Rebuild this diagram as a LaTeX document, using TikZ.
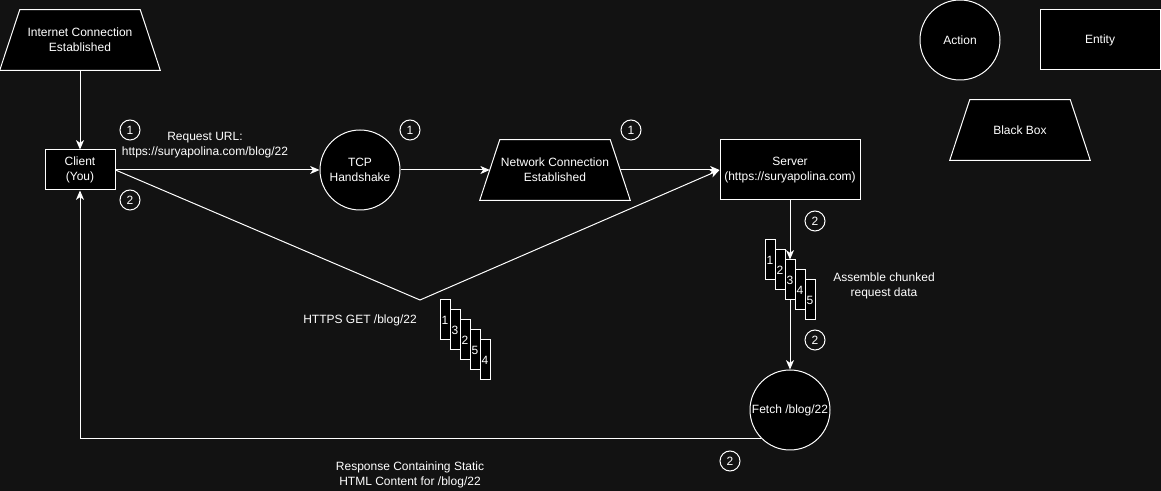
\documentclass[tikz,border=0pt]{standalone}
\usepackage{fontspec}
\setmainfont{Liberation Sans}
\usetikzlibrary{shapes.geometric,arrows.meta}
\definecolor{bg}{RGB}{18,18,18}
\newcommand\mytrap[1]{\draw[shp] ([xshift=15pt]#1.north west) -- ([xshift=-15pt]#1.north east) -- (#1.south east) -- (#1.south west) -- cycle;}
\begin{document}
\begin{tikzpicture}[x=0.75pt,y=-0.75pt,
  every node/.style={font=\fontsize{9pt}{11pt}\selectfont, text=white},
  shp/.style={draw=white, fill=black, line width=0.75pt, inner sep=0pt, align=center},
  entity/.style={shp, rectangle},
  action/.style={shp, circle, minimum size=60pt},
  trapbox/.style={rectangle, inner sep=0pt, minimum height=45pt},
  chunk/.style={shp, rectangle, minimum width=7.5pt, minimum height=30pt},
  badge/.style={draw=white, line width=0.75pt, circle, minimum size=15pt, inner sep=0pt},
  lbl/.style={align=center},
  arr/.style={draw=white, line width=0.75pt, -{Stealth[length=7pt,width=6pt,inset=2pt]}},
  ln/.style={draw=white, line width=0.75pt}]
\useasboundingbox (0,0) rectangle (1161,491);
\fill[bg] (0,0) rectangle (1161,491);

% black boxes (trapezoids)
\node[trapbox, minimum width=120pt] (inet) at (80,40) {};
\mytrap{inet}
\node[lbl] (inettxt) at (inet) {Internet Connection\\Established};
\node[trapbox, minimum width=112.5pt] (net) at (555,170) {};
\mytrap{net}
\node[lbl] (nettxt) at (net) {Network Connection\\Established};
\node[trapbox, minimum width=105pt] (lbb) at (1020,130) {};
\mytrap{lbb}
\node[lbl] (lbbtxt) at (lbb) {Black Box};

% main nodes
\node[entity, minimum width=52.5pt, minimum height=30pt] (client) at (80,170) {Client\\(You)};
\node[action] (tcp) at (360,170) {TCP\\Handshake};
\node[entity, minimum width=105pt, minimum height=45pt] (server) at (790,170) {Server\\(https://suryapolina.com)};
\node[action] (fetch) at (790,410) {Fetch /blog/22};

% legend
\node[action] (lact) at (960,40) {Action};
\node[entity, minimum width=90pt, minimum height=45pt] (lent) at (1100,40) {Entity};

% chunks near server
\node[chunk] (s1) at (770,260) {1};
\node[chunk] (s2) at (780,270) {2};
\node[chunk] (s3) at (790,280) {3};
\node[chunk] (s4) at (800,290) {4};
\node[chunk] (s5) at (810,300) {5};

% chunks of GET request
\node[chunk] (g1) at (445,320) {1};
\node[chunk] (g2) at (455,330) {3};
\node[chunk] (g3) at (465,340) {2};
\node[chunk] (g4) at (475,350) {5};
\node[chunk] (g5) at (485,360) {4};

% badges
\node[badge] (b1) at (130,130) {1};
\node[badge] (b2) at (410,130) {1};
\node[badge] (b3) at (631,130) {1};
\node[badge] (b4) at (130,200) {2};
\node[badge] (b5) at (815,221) {2};
\node[badge] (b6) at (815,340) {2};
\node[badge] (b7) at (730,461) {2};

% labels
\node[lbl] (lurl) at (205,145) {Request URL:\\https://suryapolina.com/blog/22};
\node[lbl] (lget) at (360,320) {HTTPS GET /blog/22};
\node[lbl] (lasm) at (884,286) {Assemble chunked\\request data};
\node[lbl] (lresp) at (410,475) {Response Containing Static\\HTML Content for /blog/22};

% connectors
\coordinate (v) at (420,300);
\coordinate (netin) at ([xshift=7.5pt]net.west);
\coordinate (netout) at ([xshift=-7.5pt]net.east);
\draw[arr] (inet.south) -- (client.north);
\draw[arr] (client.east) -- (tcp.west);
\draw[arr] (tcp.east) -- (netin);
\draw[arr] (netout) -- (server.west);
\draw[arr] (client.east) -- (v) -- (server.west);
\draw[arr] (server.south) -- (s3.north);
\draw[arr] (s3.south) -- (fetch.north);
\draw[arr] (fetch.225) -| (client.south);
\end{tikzpicture}
\end{document}
